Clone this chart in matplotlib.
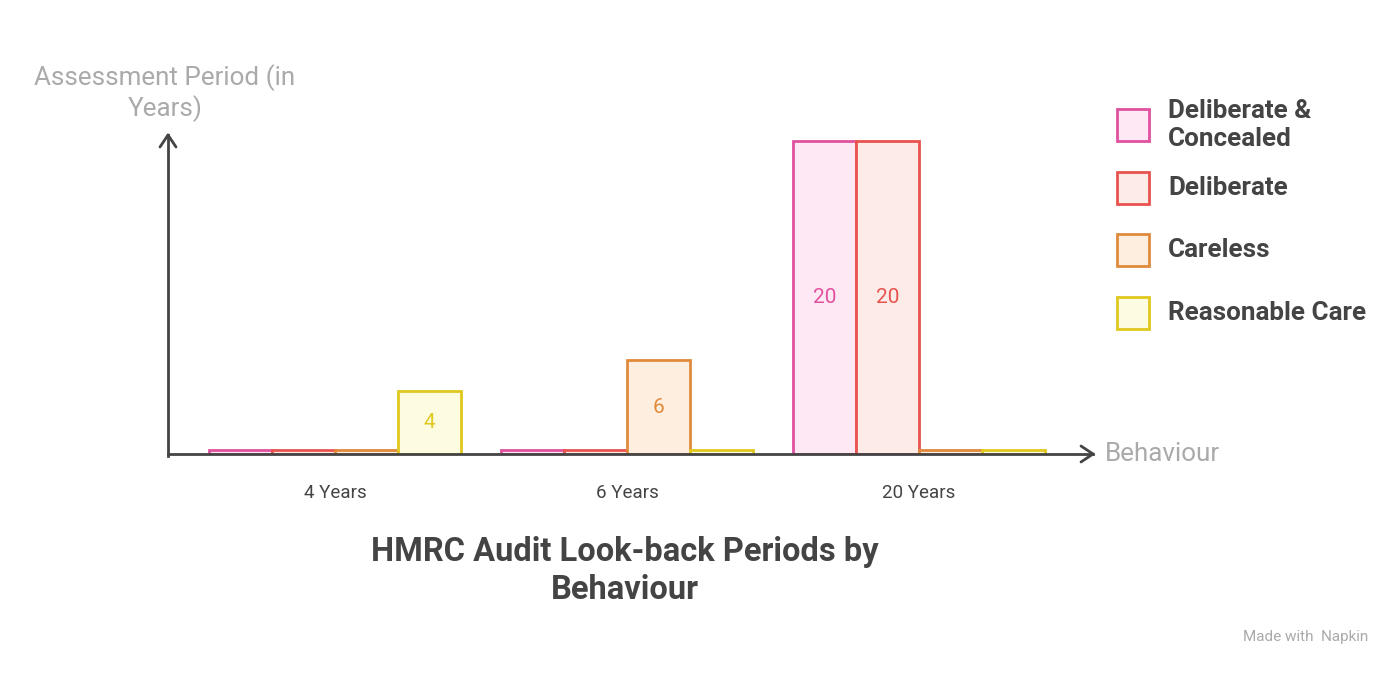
import matplotlib
matplotlib.use("Agg")
import matplotlib.pyplot as plt
from matplotlib.patches import Rectangle

categories = ["4 Years", "6 Years", "20 Years"]
series = ["Deliberate &\nConcealed", "Deliberate", "Careless", "Reasonable Care"]
values = [
    [0, 0, 20],   # Deliberate & Concealed
    [0, 0, 20],   # Deliberate
    [0, 6, 0],    # Careless
    [4, 0, 0],    # Reasonable Care
]
edges = ["#e0519f", "#e8534f", "#e08a3c", "#e0c81e"]
fills = ["#fde8f4", "#fdebe8", "#fdeee0", "#fdfbe0"]

plt.rcParams['font.family'] = ['Roboto', 'DejaVu Sans']
W, H = 1400, 674
fig = plt.figure(figsize=(14, 6.74), dpi=100)
x0, x1, yb, yt = 168, 1090, 454, 135
ax = fig.add_axes([x0 / W, 1 - yb / H, (x1 - x0) / W, (yb - yt) / H])
ax.set_xlim(-0.572, 2.586)
ax.set_ylim(0, 20.38)
ax.axis("off")

bw = 63 / 292
for s in range(4):
    for i, v in enumerate(values[s]):
        xc = i + (s - 1.5) * bw
        h = v if v > 0 else 0.25
        ax.bar(xc, h, width=bw, color=fills[s], edgecolor=edges[s], linewidth=2, zorder=2)
        if v > 0:
            ax.text(xc, v / 2, str(v), ha="center", va="center", color=edges[s], fontsize=15, zorder=3)

for i, c in enumerate(categories):
    fig.text((335 + 292 * i) / W, 1 - 493 / H, c, ha="center", va="center", fontsize=13.5, color="#444")

fig.add_artist(matplotlib.lines.Line2D([168 / W, 168 / W], [1 - 456 / H, 1 - 135 / H], color="#444", lw=2))
fig.add_artist(matplotlib.lines.Line2D([168 / W, 1093 / W], [1 - 454 / H, 1 - 454 / H], color="#444", lw=2))
for (xa, ya, dx, dy) in [(168, 135, -8, 12), (168, 135, 8, 12), (1093, 454, -12, -8), (1093, 454, -12, 8)]:
    fig.add_artist(matplotlib.lines.Line2D([xa / W, (xa + dx) / W], [1 - ya / H, 1 - (ya + dy) / H],
                                           color="#444", lw=2, solid_capstyle="round"))

fig.text(165 / W, 1 - 93 / H, "Assessment Period (in\nYears)", ha="center", va="center",
         fontsize=18.7, color="#aaa", linespacing=1.2)
fig.text(1105 / W, 1 - 454 / H, "Behaviour", ha="left", va="center", fontsize=18.7, color="#aaa")

ys = [125, 188, 250, 313]
for s in range(4):
    fig.add_artist(Rectangle((1117 / W, 1 - (ys[s] + 16) / H), 32 / W, 32 / H, transform=fig.transFigure,
                             facecolor=fills[s], edgecolor=edges[s], lw=2))
    fig.text(1168 / W, 1 - ys[s] / H, series[s], ha="left", va="center", fontsize=18.7,
             fontweight="bold", color="#444", linespacing=1.2)

fig.text(625 / W, 1 - 571 / H, "HMRC Audit Look-back Periods by\nBehaviour", ha="center", va="center",
         fontsize=23.5, fontweight="bold", color="#444", linespacing=1.25)
fig.text(1368 / W, 1 - 637 / H, "Made with  Napkin", ha="right", va="center", fontsize=11, color="#aaa")

fig.savefig("out.png", dpi=100, facecolor="white")
